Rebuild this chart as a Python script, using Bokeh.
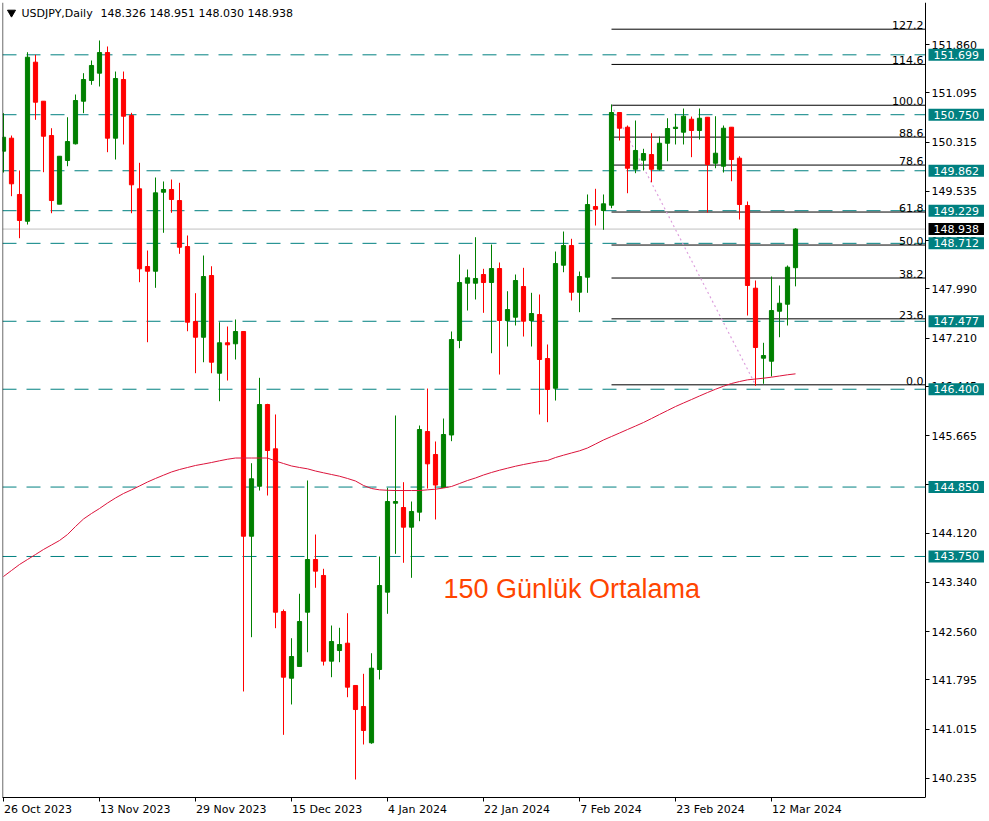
from bokeh.plotting import figure
from bokeh.models import Range1d, FixedTicker, PrintfTickFormatter, Span, ColumnDataSource, Label
from bokeh.core.properties import value
from bokeh.embed import file_html
from bokeh.resources import INLINE

# ---------------- data ----------------
symbol = "USDJPY,Daily"
quote_text = "148.326 148.951 148.030 148.938"
ma_label = "150 Günlük Ortalama"

opens = [150.172,150.378,149.486,149.062,151.582,150.964,150.420,149.332,150.024,150.289,
         150.964,151.292,151.408,151.735,150.378,151.308,150.737,149.576,148.345,148.270,
         149.522,149.565,149.390,148.661,147.473,147.224,148.202,146.654,147.136,147.120,
         147.315,144.071,144.863,146.158,145.456,142.878,141.821,142.007,142.867,143.702,
         143.449,142.091,142.260,142.376,141.706,141.373,140.798,141.959,143.184,144.594,
         144.526,144.214,144.452,145.730,145.366,144.843,145.675,147.172,148.080,148.080,
         148.218,148.091,148.313,147.489,147.541,148.028,147.489,147.584,146.887,146.416,
         148.365,148.677,147.937,148.175,149.295,149.232,149.316,150.785,150.552,149.886,
         150.029,150.119,149.886,150.298,150.531,150.473,150.679,150.500,150.710,149.981,
         149.934,150.552,150.061,149.311,148.001,146.892,146.844,147.636,147.747,148.326]
highs = [150.774,150.420,149.866,151.740,151.699,150.964,150.536,150.092,150.710,151.070,
         151.408,151.609,151.926,151.831,151.434,151.434,150.780,149.988,148.598,149.755,
         149.692,149.723,149.671,148.836,147.922,148.519,148.349,147.462,147.394,147.505,
         147.315,145.228,146.581,146.169,146.000,142.910,142.455,143.159,144.954,144.098,
         143.555,142.656,142.620,142.851,141.706,141.891,142.217,143.750,144.838,145.984,
         144.927,144.621,145.825,146.411,145.572,145.936,147.315,148.535,148.297,148.809,
         148.308,148.693,148.408,147.953,148.218,148.324,147.928,147.901,147.109,148.582,
         148.899,148.784,148.265,149.486,149.576,149.486,150.912,150.785,150.579,150.658,
         150.210,150.457,150.404,150.694,150.764,150.848,150.721,150.848,150.710,150.726,
         150.579,150.552,150.092,149.375,148.123,147.136,148.186,148.044,148.361,148.951]
lows = [149.834,149.459,148.793,149.010,150.669,149.839,149.189,149.332,149.934,150.278,
        150.774,151.224,151.197,150.156,150.040,150.278,149.189,148.096,147.145,148.007,
        148.879,149.196,148.546,147.319,146.654,146.828,146.654,146.210,146.538,146.871,
        141.611,142.471,144.795,144.716,142.614,140.924,141.405,142.007,142.233,143.254,
        142.022,141.837,142.075,141.520,140.216,140.771,140.782,141.801,142.842,143.792,
        143.650,143.412,144.309,144.827,144.336,144.843,145.577,147.050,147.647,147.822,
        147.611,146.971,146.633,147.077,147.410,147.235,147.077,146.000,145.878,146.221,
        148.254,147.806,147.621,147.928,148.994,148.926,149.268,150.341,149.506,149.823,
        149.866,149.680,149.866,150.013,150.278,150.278,150.077,150.357,149.200,149.902,
        149.834,149.696,149.089,147.568,146.454,146.486,146.602,147.224,147.410,148.030]
closes = [150.393,149.655,149.074,151.661,150.948,150.409,149.390,150.092,150.325,150.975,
          151.308,151.530,151.735,150.378,151.324,150.726,149.639,148.308,148.270,149.512,
          149.565,149.406,148.650,147.462,147.224,148.186,146.828,147.136,147.104,147.315,
          144.071,144.981,146.158,145.429,142.867,141.837,142.165,142.720,143.702,143.517,
          142.091,142.403,142.355,141.679,141.325,140.993,141.980,143.290,144.621,144.621,
          144.214,144.463,145.762,145.218,144.882,145.683,147.188,148.091,148.166,148.155,
          148.091,148.313,147.489,147.663,148.123,147.478,147.600,146.871,146.396,148.392,
          148.677,147.937,148.186,149.327,149.252,149.338,150.785,150.536,149.902,150.183,
          150.135,149.886,150.298,150.531,150.552,150.726,150.500,150.694,149.961,150.140,
          150.536,150.040,149.327,148.044,147.061,146.934,147.647,147.763,148.334,148.938]
ma150 = [143.433,143.528,143.623,143.702,143.781,143.861,143.932,144.003,144.098,144.225,
         144.344,144.431,144.510,144.597,144.677,144.748,144.806,144.867,144.930,144.986,
         145.038,145.089,145.128,145.160,145.192,145.215,145.239,145.266,145.291,145.310,
         145.310,145.310,145.310,145.310,145.263,145.223,145.184,145.160,145.139,145.104,
         145.076,145.049,145.022,144.986,144.946,144.875,144.827,144.806,144.799,144.795,
         144.795,144.795,144.795,144.806,144.816,144.835,144.859,144.906,144.954,144.994,
         145.041,145.081,145.117,145.149,145.180,145.207,145.231,145.255,145.271,145.318,
         145.355,145.390,145.424,145.469,145.532,145.596,145.651,145.706,145.762,145.817,
         145.873,145.936,146.000,146.063,146.126,146.182,146.237,146.293,146.348,146.400,
         146.448,146.491,146.522,146.549,146.562,146.575,146.591,146.610,146.629,146.644]

date_labels = ["26 Oct 2023", "13 Nov 2023", "29 Nov 2023", "15 Dec 2023", "4 Jan 2024",
               "22 Jan 2024", "7 Feb 2024", "23 Feb 2024", "12 Mar 2024"]
date_label_bars = [0, 12, 24, 36, 48, 60, 72, 84, 96]

price_ticks = [151.860, 151.095, 150.315, 149.535, 148.755, 147.990, 147.210, 146.445, 145.665,
               144.885, 144.120, 143.340, 142.560, 141.795, 141.015, 140.235]
level_prices = [151.699, 150.750, 149.862, 149.229, 148.712, 147.477, 146.400, 144.850, 143.750]
last_price = 148.938

fib_ratios = [0.0, 23.6, 38.2, 50.0, 61.8, 78.6, 88.6, 100.0, 114.6, 127.2]
fib_low, fib_high = 146.47, 150.90
fib_start_bar, fib_end_bar = 76, 94

# ---------------- geometry (reference pixel grid: 8 px per bar) ----------------
FW, FH = 985, 795


def xd(px):
    return (px - 3) / 8.0


Y0, Y1 = 139.931, 152.528


def yd(py):
    return Y1 - (py - 2) * (Y1 - Y0) / 795.0


X0, X1 = xd(2), xd(987)
XSCALE = xd(925)          # price-scale line (chart area ends here)

FONT = value("DejaVu Sans")
FS = value("11px")
UP, DOWN = "#008000", "#FF0000"
TEAL = "#008080"

p = figure(frame_width=FW, frame_height=FH, x_range=Range1d(X0, X1), y_range=Range1d(Y0, Y1),
           output_backend="svg", toolbar_location=None, y_axis_location="right",
           min_border_left=2, min_border_top=2, min_border_right=2, min_border_bottom=22,
           background_fill_color="white", border_fill_color="white")
p.grid.visible = False
p.outline_line_color = None

# ---- time axis ----
char_w = {"0": .636, "1": .636, "2": .636, "3": .636, "4": .636, "5": .636, "6": .636, "7": .636,
          "8": .636, "9": .636, " ": .318, "O": .787, "c": .550, "t": .392, "N": .748, "o": .612,
          "v": .592, "D": .770, "e": .615, "J": .295, "a": .613, "n": .634, "F": .575, "b": .635,
          "M": .863, "r": .411}
px_per_bar = FW / (X1 - X0)
centers, overrides = [], {}
for b, lab in zip(date_label_bars, date_labels):
    w = sum(char_w.get(ch, .6) for ch in lab) * 11
    c = round(b + (w / 2 + 0.5) / px_per_bar, 2)
    centers.append(c)
    overrides[c] = lab

xa = p.xaxis[0]
xa.ticker = FixedTicker(ticks=centers, minor_ticks=date_label_bars)
xa.major_label_overrides = overrides
xa.bounds = (X0, XSCALE)
xa.major_tick_out = 0
xa.major_tick_in = 0
xa.minor_tick_out = 4
xa.minor_tick_in = 0
xa.minor_tick_line_color = "black"
xa.axis_line_color = "black"
xa.major_label_standoff = 1
xa.major_label_text_font = "DejaVu Sans"
xa.major_label_text_font_size = "11px"
xa.major_label_text_color = "black"

# ---- price axis (drawn at the end of the chart area) ----
ya = p.yaxis[0]
ya.fixed_location = XSCALE
ya.ticker = FixedTicker(ticks=price_ticks)
ya.formatter = PrintfTickFormatter(format="%.3f")
ya.major_tick_out = 4
ya.major_tick_in = 0
ya.minor_tick_line_color = None
ya.axis_line_color = "black"
ya.major_label_standoff = 2
ya.major_label_text_font = "DejaVu Sans"
ya.major_label_text_font_size = "11px"
ya.major_label_text_color = "black"

p.add_layout(Span(location=X0 + 0.02, dimension="height", line_color="black", line_width=1))

# ---- horizontal levels ----
nl = len(level_prices)
p.segment(x0=[X0] * nl, y0=level_prices, x1=[XSCALE] * nl, y1=level_prices,
          line_color=TEAL, line_width=1, line_dash="14 10")
p.segment(x0=[X0], y0=[last_price], x1=[XSCALE], y1=[last_price], line_color="#C0C0C0", line_width=1)

# ---- fibonacci ----
fib_prices = [fib_low + r / 100.0 * (fib_high - fib_low) for r in fib_ratios]
nf = len(fib_prices)
p.segment(x0=[fib_start_bar] * nf, y0=fib_prices, x1=[XSCALE] * nf, y1=fib_prices,
          line_color="black", line_width=1)
p.text(x=[xd(923)] * nf, y=fib_prices, text=["%.1f" % r for r in fib_ratios],
       text_font=FONT, text_font_size=FS, text_color="black", text_align="right", text_baseline="bottom")
p.line([fib_start_bar, fib_end_bar], [fib_high, fib_low], line_color="#DDA0DD", line_width=1.2, line_dash="2 3")

# ---- candles ----
n = len(opens)
bars = list(range(n))
colors = [UP if c >= o else DOWN for o, c in zip(opens, closes)]
src = ColumnDataSource(dict(x=bars, o=opens, h=highs, l=lows, c=closes,
                            top=[max(o, c) for o, c in zip(opens, closes)],
                            bot=[min(o, c) for o, c in zip(opens, closes)], col=colors))
p.segment(x0="x", y0="l", x1="x", y1="h", line_color="col", line_width=1, source=src)
p.vbar(x="x", top="top", bottom="bot", width=0.52, fill_color="col", line_color="col", line_width=1, source=src)

# ---- moving average ----
p.line(bars, ma150, line_color="#DC143C", line_width=1)

# ---- texts ----
p.scatter([xd(11)], [yd(12)], marker="inverted_triangle", size=8, color="black")
p.text(x=[xd(21)], y=[yd(12.5)], text=[symbol], text_font=FONT, text_font_size=FS,
       text_color="black", text_baseline="middle", text_align="left")
p.text(x=[xd(100)], y=[yd(12.5)], text=[quote_text], text_font=FONT, text_font_size=FS,
       text_color="black", text_baseline="middle", text_align="left")
p.text(x=[xd(443)], y=[yd(588)], text=[ma_label], text_font=value("Liberation Sans"),
       text_font_size=value("27px"), text_color="#FF4500", text_baseline="middle", text_align="left")

# ---- price tags on the scale ----
for lv in level_prices:
    p.add_layout(Label(x=xd(928), y=lv, text="%.3f" % lv, text_font="DejaVu Sans", text_font_size="11px",
                       text_color="white", text_baseline="middle", text_align="left",
                       background_fill_color=TEAL, padding=(5, 2)))
p.add_layout(Label(x=xd(928), y=last_price, text="%.3f" % last_price, text_font="DejaVu Sans",
                   text_font_size="11px", text_color="white", text_baseline="middle", text_align="left",
                   background_fill_color="black", padding=(5, 2)))

open("out.html", "w").write(file_html(p, INLINE))
